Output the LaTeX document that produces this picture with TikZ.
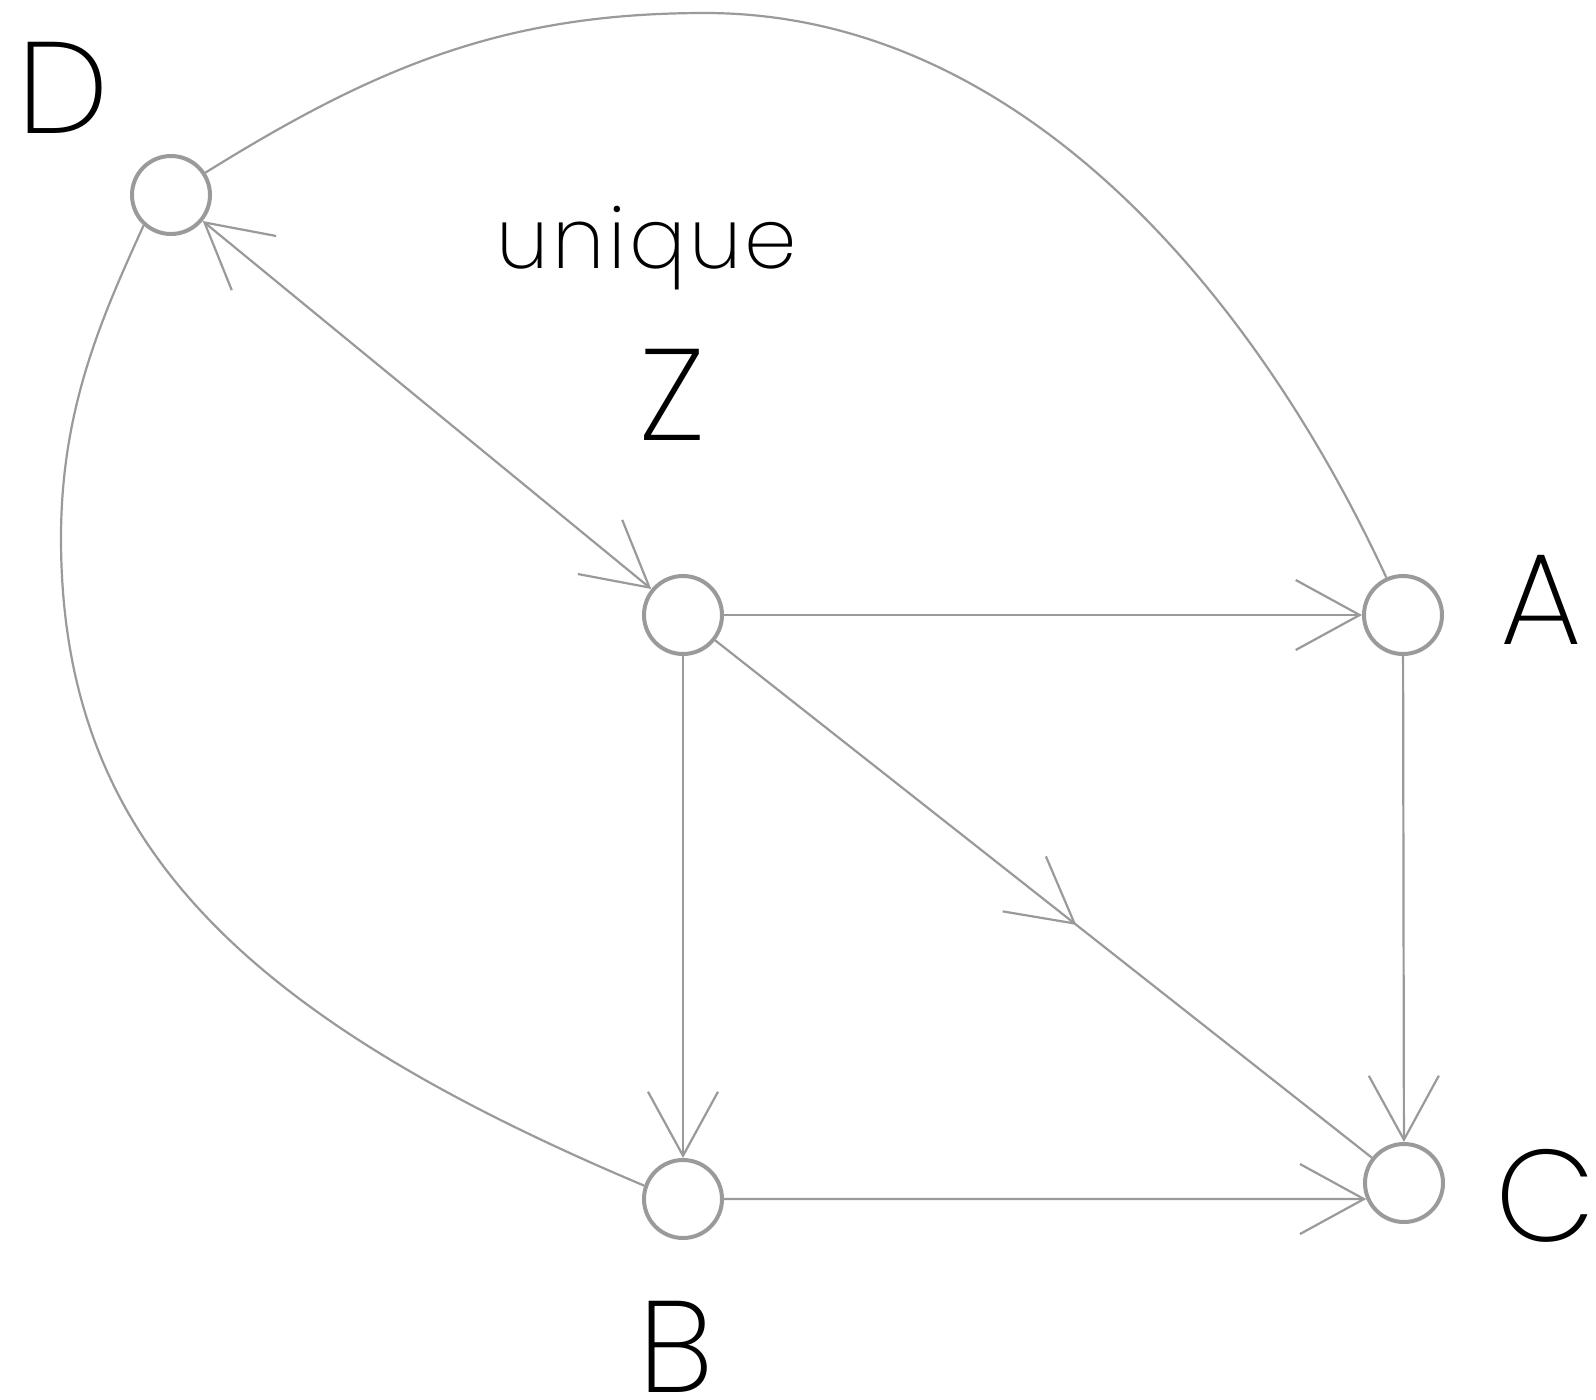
\documentclass[tikz,border=0pt]{standalone}
\usepackage{fontspec}
\setmainfont{Poppins}[UprightFont=* ExtraLight]
\newfontfamily\uniquefont{Poppins}[UprightFont=* ExtraLight,LetterSpace=4]
\usetikzlibrary{arrows.meta,decorations.markings}
\definecolor{edgegray}{HTML}{9A9A9A}
\begin{document}
\begin{tikzpicture}[x=0.5pt,y=-0.5pt,
  >={Straight Barb[length=32pt,width=35pt]},
  vert/.style={circle,draw=edgegray,line width=2pt,minimum size=39pt,inner sep=0pt,fill=white},
  conn/.style={draw=edgegray,line width=1.1pt},
  lbl/.style={font=\fontsize{65}{70}\selectfont,anchor=base,inner sep=0pt,text depth=0pt,text=black},
  small/.style={font=\uniquefont\fontsize{42}{48}\selectfont,anchor=base,inner sep=0pt,text depth=0pt,text=black}]
\useasboundingbox (0,0) rectangle (1596,1399);
\fill[white] (0,0) rectangle (1596,1399);

% vertices
\node[vert] (D) at (171,195) {};
\node[vert] (Z) at (683,615) {};
\node[vert] (A) at (1403,615) {};
\node[vert] (B) at (683,1199) {};
\node[vert] (C) at (1404,1183) {};

% labels
\node[lbl] (lD) at (63,133) {D};
\node[small] (lu) at (647,268) {unique};
\node[lbl] (lZ) at (672,440) {Z};
\node[lbl] (lA) at (1541,644) {A};
\node[lbl] (lC) at (1546,1241) {C};
\node[lbl] (lB) at (676,1392) {B};

% connectors
\draw[conn,->] (Z) -- (A);
\draw[conn,->] (Z) -- (B);
\draw[conn,->] (A) -- (C);
\draw[conn,->] (B) -- (C.203);
\draw[conn,<->] (D) -- (Z);
\draw[conn,postaction={decorate},
  decoration={markings,mark=at position 0.55 with {\arrow{>}}}] (Z) -- (C);
\draw[conn] (A.114) .. controls (1259,302) and (1025,13) .. (705,13)
  .. controls (505,13) and (377,66) .. (D.33);
\draw[conn] (D.228) .. controls (102,317) and (61,408) .. (61,538)
  .. controls (61,838) and (237,1014) .. (B.161);
\end{tikzpicture}
\end{document}
